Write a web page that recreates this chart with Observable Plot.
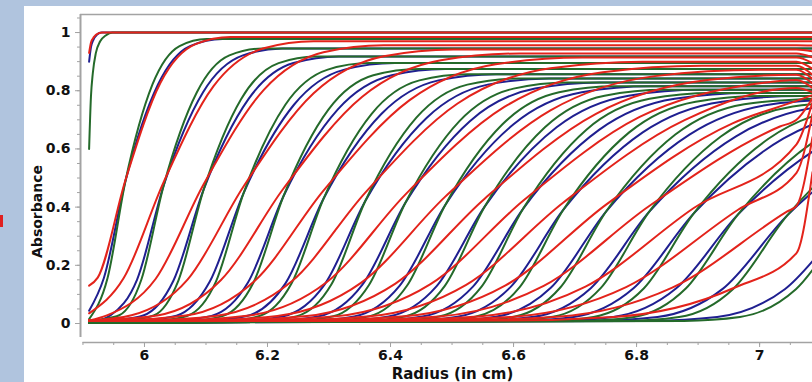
<!DOCTYPE html>
<html>
<head>
<meta charset="utf-8">
<script src="https://cdn.jsdelivr.net/npm/d3@7"></script>
<script src="https://cdn.jsdelivr.net/npm/@observablehq/plot@0.6"></script>
<style>
  html, body { margin: 0; padding: 0; width: 812px; height: 382px; overflow: hidden; background: #b0c4de; }
  #panel { position: absolute; left: 24px; top: 6px; width: 788px; height: 376px; background: #ffffff; }
  #chart { position: absolute; left: 0; top: 0; }
  #tab { position: absolute; left: 0; top: 215px; width: 3px; height: 12px; background: #e02020; }
</style>
</head>
<body>
<div id="panel"></div>
<div id="tab"></div>
<div id="chart"></div>
<script>
// Sedimentation velocity scans: absorbance vs. radius, three boundary models per scan.

const xTicks = [6, 6.2, 6.4, 6.6, 6.8, 7];
const yTicks = [0, 0.2, 0.4, 0.6, 0.8, 1];
const xTitle = "Radius (in cm)";
const yTitle = "Absorbance";

const meniscus = 5.910;     // cm
const cellEnd = 7.086;      // right edge of the scanned range
const bendRadius = 7.06;    // where the red fits turn toward the cell bottom

// Fraction of the plateau reached at each listed radius
const levels = [0.012, 0.03, 0.16, 0.5, 0.84, 0.975, 1.0];

// First scan (boundary still at the meniscus), [radius, absorbance]
const greenFirst = [[5.910,0.60],[5.913,0.78],[5.916,0.86],[5.921,0.93],[5.928,0.97],[5.937,0.99],[5.948,1.0],[7.086,1.0]];
const blueFirst  = [[5.910,0.90],[5.913,0.95],[5.917,0.975],[5.923,0.993],[5.930,1.0],[7.086,1.0]];
const redFirst   = [[5.910,0.93],[5.913,0.965],[5.918,0.985],[5.925,0.997],[5.932,1.0],[7.086,1.0]];

// Later scans: boundary midpoint radius (cm)
const midRadius = [5.969, 6.031, 6.096, 6.161, 6.226, 6.291, 6.359, 6.424, 6.489,
                   6.553, 6.616, 6.681, 6.751, 6.820, 6.893, 6.965, 7.045, 7.150];

// Plateau absorbance per scan
const plateauGreenBlue = [0.978, 0.945, 0.918, 0.895, 0.875, 0.857, 0.842, 0.828, 0.815,
                          0.803, 0.792, 0.782, 0.773, 0.765, 0.757, 0.750, 0.743, 0.737];
const plateauRed = [0.985, 0.970, 0.956, 0.942, 0.928, 0.914, 0.900, 0.886, 0.872,
                    0.858, 0.845, 0.832, 0.819, 0.806, 0.794, 0.782, 0.770, 0.758];

// Absorbance at the meniscus
const greenStart = [0.015, 0.003, 0.003, 0.003, 0.003, 0.003, 0.003, 0.003, 0.003,
                    0.003, 0.003, 0.003, 0.003, 0.003, 0.003, 0.003, 0.003, 0.003];
const blueStart  = [0.044, 0.003, 0.003, 0.003, 0.003, 0.003, 0.003, 0.003, 0.003,
                    0.003, 0.003, 0.003, 0.003, 0.003, 0.003, 0.003, 0.003, 0.003];
const redStart   = [0.130, 0.035, 0.010, 0.010, 0.010, 0.010, 0.010, 0.010, 0.010,
                    0.010, 0.010, 0.010, 0.010, 0.010, 0.010, 0.010, 0.010, 0.010];

// Radii (cm) where each boundary passes the three levels below and above its midpoint
const greenRadii = [
  [5.881, 5.910, 5.940, 6.013, 6.057, 6.101],
  [5.924, 5.959, 5.995, 6.085, 6.138, 6.192],
  [5.974, 6.015, 6.055, 6.157, 6.218, 6.279],
  [6.025, 6.070, 6.116, 6.229, 6.298, 6.366],
  [6.080, 6.128, 6.177, 6.299, 6.372, 6.446],
  [6.135, 6.187, 6.239, 6.369, 6.447, 6.525],
  [6.193, 6.248, 6.304, 6.442, 6.525, 6.608],
  [6.248, 6.307, 6.365, 6.512, 6.600, 6.687],
  [6.304, 6.365, 6.427, 6.582, 6.674, 6.767],
  [6.358, 6.423, 6.488, 6.651, 6.748, 6.846],
  [6.411, 6.479, 6.548, 6.718, 6.821, 6.923],
  [6.467, 6.538, 6.610, 6.788, 6.896, 7.003],
  [6.527, 6.601, 6.676, 6.863, 6.975, 7.088],
  [6.586, 6.664, 6.742, 6.937, 7.054, 7.171],
  [6.649, 6.730, 6.812, 7.015, 7.137, 7.259],
  [6.711, 6.796, 6.880, 7.092, 7.219, 7.345],
  [6.782, 6.869, 6.957, 7.177, 7.308, 7.440],
  [6.877, 6.968, 7.059, 7.287, 7.423, 7.560]
];
const blueRadii = [
  [5.864, 5.899, 5.934, 6.022, 6.074, 6.127],
  [5.902, 5.945, 5.988, 6.095, 6.160, 6.224],
  [5.950, 5.998, 6.047, 6.169, 6.242, 6.316],
  [5.997, 6.052, 6.106, 6.243, 6.325, 6.407],
  [6.050, 6.109, 6.168, 6.314, 6.402, 6.489],
  [6.104, 6.166, 6.229, 6.385, 6.478, 6.572],
  [6.160, 6.226, 6.293, 6.459, 6.558, 6.658],
  [6.213, 6.284, 6.354, 6.529, 6.635, 6.740],
  [6.267, 6.341, 6.415, 6.600, 6.711, 6.823],
  [6.319, 6.397, 6.475, 6.670, 6.787, 6.904],
  [6.370, 6.452, 6.534, 6.739, 6.862, 6.985],
  [6.423, 6.509, 6.595, 6.810, 6.939, 7.067],
  [6.482, 6.571, 6.661, 6.886, 7.020, 7.155],
  [6.539, 6.633, 6.726, 6.961, 7.101, 7.242],
  [6.600, 6.698, 6.795, 7.039, 7.186, 7.332],
  [6.661, 6.762, 6.864, 7.117, 7.269, 7.422],
  [6.729, 6.834, 6.940, 7.203, 7.361, 7.519],
  [6.822, 6.931, 7.041, 7.314, 7.478, 7.642]
];
const redRadii = [
  [5.833, 5.878, 5.924, 6.026, 6.083, 6.140],
  [5.836, 5.901, 5.966, 6.112, 6.194, 6.275],
  [5.862, 5.940, 6.018, 6.194, 6.291, 6.389],
  [5.888, 5.979, 6.070, 6.275, 6.389, 6.502],
  [5.919, 6.021, 6.124, 6.354, 6.482, 6.610],
  [5.954, 6.067, 6.179, 6.431, 6.571, 6.712],
  [5.998, 6.118, 6.239, 6.509, 6.660, 6.810],
  [6.039, 6.167, 6.296, 6.585, 6.745, 6.906],
  [6.079, 6.216, 6.352, 6.660, 6.830, 7.001],
  [6.119, 6.264, 6.408, 6.734, 6.915, 7.096],
  [6.162, 6.314, 6.465, 6.805, 6.994, 7.183],
  [6.208, 6.366, 6.523, 6.878, 7.075, 7.272],
  [6.258, 6.423, 6.587, 6.956, 7.162, 7.367],
  [6.308, 6.479, 6.649, 7.033, 7.247, 7.460],
  [6.366, 6.542, 6.717, 7.113, 7.332, 7.552],
  [6.419, 6.601, 6.783, 7.193, 7.420, 7.648],
  [6.484, 6.671, 6.858, 7.279, 7.513, 7.746],
  [6.570, 6.763, 6.957, 7.392, 7.634, 7.876]
];

// Red fits near the cell bottom: absorbance at the bend and at the edge of the range
const redBend = [0.985, 0.970, 0.956, 0.942, 0.928, 0.914, 0.900, 0.886, 0.872,
                 0.855, 0.837, 0.809, 0.765, 0.700, 0.616, 0.518, 0.404, 0.242];
const redEdge = [0.985, 0.970, 0.955, 0.935, 0.915, 0.895, 0.875, 0.855, 0.840,
                 0.825, 0.810, 0.795, 0.785, 0.775, 0.760, 0.720, 0.640, 0.520];

const greenColor = "#246a2a";
const blueColor = "#1f1f90";
const redColor = "#e3231b";
const axisGray = "#a3a3a3";

// Turn one scan's radii into [radius, absorbance] rows
function scanRows(k, radii, plateau, start, series) {
  const rs = [radii[0], radii[1], radii[2], midRadius[k], radii[3], radii[4], radii[5]];
  const rows = [{scan: k + 1, r: meniscus, a: start}];
  rs.forEach((r, i) => {
    if (r > meniscus + 0.002) rows.push({scan: k + 1, r, a: Math.max(levels[i] * plateau, start)});
  });
  if (series === "red") {
    const kept = rows.filter(d => d.r < bendRadius - 0.004);
    kept.push({scan: k + 1, r: bendRadius, a: redBend[k]});
    kept.push({scan: k + 1, r: cellEnd, a: redEdge[k]});
    return kept;
  }
  if (rs[6] < cellEnd) rows.push({scan: k + 1, r: cellEnd, a: plateau});
  return rows;
}

function seriesRows(first, radiiTable, plateaus, starts, series) {
  const rows = first.map(([r, a]) => ({scan: 0, r, a}));
  radiiTable.forEach((radii, k) => {
    rows.push(...scanRows(k, radii, plateaus[k], starts[k], series));
  });
  return rows;
}

const greenRows = seriesRows(greenFirst, greenRadii, plateauGreenBlue, greenStart, "green");
const blueRows = seriesRows(blueFirst, blueRadii, plateauGreenBlue, blueStart, "blue");
const redRows = seriesRows(redFirst, redRadii, plateauRed, redStart, "red");

const xDomain = [5.896, 7.086];
const yDomain = [-0.0653, 1.062];
const xMinor = d3.range(118, 142).map(i => i / 20);
const yMinor = d3.range(0, 22).map(i => i / 20);

const lineOpts = {x: "r", y: "a", z: "scan", strokeWidth: 2, curve: "monotone-x", clip: true};

const chart = Plot.plot({
  width: 812,
  height: 382,
  marginLeft: 80,
  marginRight: 0,
  marginTop: 14,
  marginBottom: 40,
  x: {domain: xDomain},
  y: {domain: yDomain},
  style: {background: "transparent", fontFamily: "'DejaVu Sans', sans-serif", fontSize: "14px", fontWeight: "bold", color: "#111"},
  marks: [
    Plot.line(blueRows, {...lineOpts, stroke: blueColor}),
    Plot.line(greenRows, {...lineOpts, stroke: greenColor}),
    Plot.line(redRows, {...lineOpts, stroke: redColor}),
    Plot.ruleX([xDomain[0]], {y1: -0.048, y2: yDomain[1], stroke: axisGray, strokeWidth: 2}),
    Plot.ruleY([yDomain[1]], {stroke: axisGray, strokeWidth: 1.6}),
    Plot.ruleY([yDomain[0]], {x1: 5.9, x2: xDomain[1], stroke: axisGray, strokeWidth: 1.6}),
    Plot.axisY(yTicks, {tickSize: 5, tickPadding: 5, stroke: axisGray, fill: "#111", label: null, tickFormat: d => String(d)}),
    Plot.axisY(yMinor, {tickSize: 3, text: null, stroke: axisGray, label: null}),
    Plot.axisX(xTicks, {tickSize: 5, tickPadding: 3, stroke: axisGray, fill: "#111", label: null, tickFormat: d => String(d)}),
    Plot.axisX(xMinor, {tickSize: 3, text: null, stroke: axisGray, label: null}),
    Plot.text([yTitle], {frameAnchor: "left", textAnchor: "middle", lineAnchor: "middle", rotate: -90, dx: -43, dy: 33, fontSize: 14, fontWeight: "bold", fill: "#111"}),
    Plot.text([xTitle], {frameAnchor: "bottom", textAnchor: "middle", lineAnchor: "middle", dx: 6, dy: 32, fontSize: 15, fontWeight: "bold", fill: "#111"})
  ]
});

document.getElementById("chart").appendChild(chart);
</script>
</body>
</html>
